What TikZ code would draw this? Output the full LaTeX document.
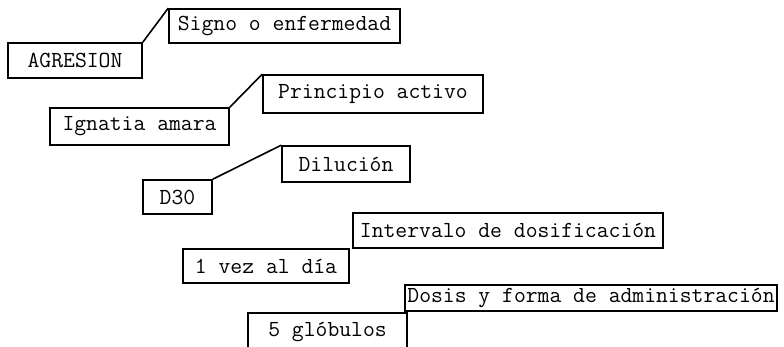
\documentclass[tikz,border=0pt]{standalone}
\usepackage{fontspec}
\begin{document}
\begin{tikzpicture}[x=1pt,y=-1pt,
  fld/.style={draw,line width=1.6pt,inner sep=0pt,font=\fontsize{23}{25}\selectfont\ttfamily}]
\useasboundingbox (0,0) rectangle (784,347);
\clip (0,0) rectangle (784,347);
\foreach \n/\x/\y/\w/\h/\t in {signo/284.5/26/231/34/Signo o enfermedad,
  agresion/75/60.5/134/35/AGRESION,
  principio/373/94/220/38/Principio activo,
  ignatia/139.5/126.5/179/37/Ignatia amara,
  dilucion/346/164/128/36/Dilución,
  dtreinta/177.5/197/69/34/D30,
  intervalo/508/230.5/310/35/Intervalo de dosificación,
  unavez/266/266/166/34/1 vez al día,
  dosis/591/298/372/26/Dosis y forma de administración,
  globulos/327.5/331.5/159/37/5 glóbulos}
  \node[fld,minimum width=\w pt,minimum height=\h pt] (\n) at (\x,\y) {\t};
\draw[line width=1.6pt] (agresion.north east) -- (signo.north west);
\draw[line width=1.6pt] (ignatia.north east) -- (principio.north west);
\draw[line width=1.6pt] (dtreinta.north east) -- (dilucion.north west);
\end{tikzpicture}
\end{document}
